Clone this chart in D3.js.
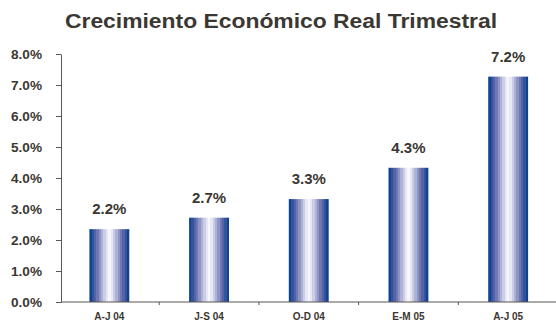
<!DOCTYPE html>
<html><head><meta charset="utf-8">
<script src="https://cdn.jsdelivr.net/npm/d3@7"></script>
<style>body{margin:0;background:#fff}svg{display:block}text{font-family:"Liberation Sans",Arial,sans-serif;font-weight:bold;fill:#3b3732}</style>
</head><body>
<script>
const categories = ["A-J 04","J-S 04","O-D 04","E-M 05","A-J 05"];
const values = [2.35, 2.72, 3.32, 4.33, 7.27];
const valueLabels = ["2.2%","2.7%","3.3%","4.3%","7.2%"];
const yTicks = [0,1,2,3,4,5,6,7,8];
const title = "Crecimiento Económico Real Trimestral";

const W=556,H=322;
const svg=d3.select("body").append("svg").attr("width",W).attr("height",H);
const stripes=["#0c4490","#34539c","#5563a6","#7078b4","#8e94c4","#adb1d6","#cbcde6","#e6e7f4","#f6f6fb"];
const defs=svg.append("defs");
const g=defs.append("linearGradient").attr("id","bg").attr("x1","0").attr("x2","1").attr("y1","0").attr("y2","0");
const seq=stripes.concat(stripes.slice(0,-1).reverse());
const n=seq.length;
seq.forEach((c,i)=>{g.append("stop").attr("offset",i/n).attr("stop-color",c);g.append("stop").attr("offset",(i+1)/n).attr("stop-color",c);});

const x=d3.scaleBand().domain(categories).range([59.5,558]).paddingInner(0.6).paddingOuter(0.3);
const y=d3.scaleLinear().domain([0,8]).range([302,54]);

svg.append("text").attr("x",281).attr("y",28).attr("text-anchor","middle").style("font-size","20px")
 .attr("textLength",432).attr("lengthAdjust","spacingAndGlyphs").text(title);

const ya=svg.append("g").attr("transform","translate(61,0)").call(d3.axisLeft(y).tickValues(yTicks).tickFormat(d=>d.toFixed(1)+"%").tickSize(5).tickSizeOuter(0));
ya.select(".domain").attr("stroke","#5a5650");
ya.selectAll(".tick line").attr("stroke","#5a5650");
ya.selectAll(".tick text").attr("x",-19).attr("dy","0.35em").style("font-size","12.5px").attr("fill","#3b3732")
 .attr("textLength",31).attr("lengthAdjust","spacingAndGlyphs");

svg.selectAll("rect.bar").data(values).join("rect").attr("class","bar")
 .attr("x",(d,i)=>x(categories[i])).attr("width",x.bandwidth())
 .attr("y",d=>y(d)).attr("height",d=>y(0)-y(d)).attr("fill","url(#bg)");

svg.selectAll("text.vl").data(values).join("text").attr("class","vl")
 .attr("x",(d,i)=>x(categories[i])+x.bandwidth()/2).attr("y",d=>y(d)-15)
 .attr("text-anchor","middle").style("font-size","15px").text((d,i)=>valueLabels[i]);

const xa=svg.append("g").attr("transform","translate(0,302)");
xa.append("line").attr("x1",61).attr("x2",W).attr("stroke","#5a5650");
const step=x.step();
categories.slice(0,-1).forEach((c,i)=>{
  const bx=x(c)+x.bandwidth()/2+step/2;
  xa.append("line").attr("x1",bx).attr("x2",bx).attr("y1",0).attr("y2",3).attr("stroke","#5a5650");
});
xa.selectAll("text").data(categories).join("text").attr("x",d=>x(d)+x.bandwidth()/2).attr("y",18)
 .attr("text-anchor","middle").style("font-size","10px").text(d=>d);
</script>
</body></html>
